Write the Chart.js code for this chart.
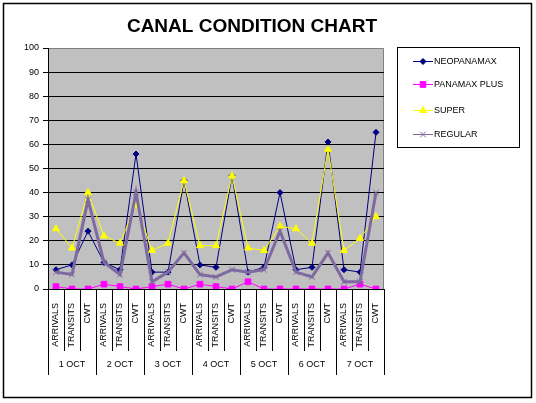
<!DOCTYPE html>
<html>
<head>
<meta charset="utf-8">
<script src="https://cdn.jsdelivr.net/npm/chart.js@4/dist/chart.umd.min.js"></script>
<style>
  body { margin: 0; background: #fff; }
  #wrap { width: 536px; height: 403px; }
</style>
</head>
<body>
<div id="wrap"><canvas id="canalChart" width="536" height="403"></canvas></div>
<script>
// ===============================
// DATA
// ===============================
const days = ["1 OCT", "2 OCT", "3 OCT", "4 OCT", "5 OCT", "6 OCT", "7 OCT"];
const kinds = ["ARRIVALS", "TRANSITS", "CWT"];
const labels = days.flatMap(() => kinds);

const neopanamax  = [8, 10, 24, 11, 8, 56, 7, 7, 45, 10, 9, 47, 7, 9, 40, 8, 9, 61, 8, 7, 65];
const panamaxPlus = [1, 0, 0, 2, 1, 0, 1, 2, 0, 2, 1, 0, 3, 0, 0, 0, 0, 0, 0, 2, 0];
const superSeries = [25, 17, 40, 22, 19, 35, 16, 19, 45, 18, 18, 47, 17, 16, 26, 25, 19, 58, 16, 21, 30];
const regular     = [7, 6, 37, 11, 6, 40, 3, 7, 15, 6, 5, 8, 7, 8, 24, 7, 5, 15, 3, 3, 40];

const yTicks = [0, 10, 20, 30, 40, 50, 60, 70, 80, 90, 100];

const FONT = "'Liberation Sans', Arial, sans-serif";

// ===============================
// EXTRA DRAWING (title, legend box, category dividers, frame)
// ===============================
const excelLook = {
  id: "excelLook",
  beforeDraw(chart) {
    const { ctx, chartArea: a } = chart;
    ctx.save();
    ctx.fillStyle = "#fff";
    ctx.fillRect(0, 0, chart.width, chart.height);
    ctx.fillStyle = "#C0C0C0";
    ctx.fillRect(a.left, a.top, a.right - a.left, a.bottom - a.top);
    ctx.strokeStyle = "#808080";
    ctx.lineWidth = 1;
    ctx.beginPath();
    ctx.moveTo(a.left, a.top + 0.5);
    ctx.lineTo(a.right - 0.5, a.top + 0.5);
    ctx.lineTo(a.right - 0.5, a.bottom);
    ctx.stroke();
    ctx.restore();
  },
  afterDraw(chart) {
    const { ctx, chartArea: a } = chart;
    const x = chart.scales.x;
    ctx.save();

    // category dividers below the axis
    const half = (x.getPixelForValue(1) - x.getPixelForValue(0)) / 2;
    ctx.strokeStyle = "#000";
    ctx.lineWidth = 1;
    for (let i = 0; i <= labels.length; i++) {
      const edge = i < labels.length ? x.getPixelForValue(i) - half : x.getPixelForValue(i - 1) + half;
      const px = Math.round(edge) + 0.5;
      const len = i % kinds.length === 0 ? 86 : 62;
      ctx.beginPath();
      ctx.moveTo(px, a.bottom);
      ctx.lineTo(px, a.bottom + len);
      ctx.stroke();
    }

    // title
    ctx.fillStyle = "#000";
    ctx.font = "bold 19px " + FONT;
    ctx.textAlign = "center";
    ctx.textBaseline = "middle";
    ctx.fillText("CANAL CONDITION CHART", 252, 27);

    // legend
    ctx.fillStyle = "#fff";
    ctx.strokeStyle = "#000";
    ctx.lineWidth = 1;
    ctx.fillRect(397.5, 47.5, 122, 100);
    ctx.strokeRect(397.5, 47.5, 122, 100);
    const rows = [61, 84, 110, 134];
    chart.data.datasets.forEach((ds, i) => {
      const y = rows[i] + 0.5;
      ctx.strokeStyle = ds.borderColor;
      ctx.lineWidth = 1;
      ctx.beginPath();
      ctx.moveTo(413, y);
      ctx.lineTo(433, y);
      ctx.stroke();
      ctx.fillStyle = ds.pointBackgroundColor;
      ctx.strokeStyle = ds.pointBorderColor;
      Chart.helpers.drawPoint(ctx, {
        pointStyle: ds.pointStyle,
        radius: ds.pointRadius,
        borderWidth: 1,
        rotation: 0
      }, 423, y);
      ctx.fillStyle = "#000";
      ctx.font = "9px " + FONT;
      ctx.textAlign = "left";
      ctx.textBaseline = "middle";
      ctx.fillText(ds.label, 434, y + 0.5);
    });

    // outer frame
    ctx.strokeStyle = "#000";
    ctx.lineWidth = 1.5;
    ctx.strokeRect(3.5, 3.5, 528, 394);
    ctx.restore();
  }
};

function makeChart() {
  const ctx = document.getElementById("canalChart").getContext("2d");

  new Chart(ctx, {
    type: "line",
    data: {
      labels: labels,
      datasets: [
        {
          label: "NEOPANAMAX",
          data: neopanamax,
          borderColor: "#000080",
          backgroundColor: "#000080",
          pointBackgroundColor: "#000080",
          pointBorderColor: "#000080",
          pointStyle: "rectRot",
          pointRadius: 3,
          borderWidth: 1,
          order: 3
        },
        {
          label: "PANAMAX PLUS",
          data: panamaxPlus,
          borderColor: "#FF00FF",
          backgroundColor: "#FF00FF",
          pointBackgroundColor: "#FF00FF",
          pointBorderColor: "#FF00FF",
          pointStyle: "rect",
          pointRadius: 4,
          borderWidth: 1,
          order: 2
        },
        {
          label: "SUPER",
          data: superSeries,
          borderColor: "#FFFF00",
          backgroundColor: "#FFFF00",
          pointBackgroundColor: "#FFFF00",
          pointBorderColor: "#FFFF00",
          pointStyle: "triangle",
          pointRadius: 4,
          borderWidth: 1,
          order: 1
        },
        {
          label: "REGULAR",
          data: regular,
          borderColor: "#7E6AA0",
          backgroundColor: "#7E6AA0",
          pointBackgroundColor: "#7E6AA0",
          pointBorderColor: "#7E6AA0",
          pointStyle: "crossRot",
          pointRadius: 4,
          pointBorderWidth: 1,
          borderWidth: 3,
          order: 0
        }
      ]
    },
    options: {
      responsive: false,
      animation: false,
      devicePixelRatio: 1,
      layout: { padding: { left: 0, top: 48, right: 152, bottom: 12 } },
      elements: { line: { tension: 0 } },
      plugins: {
        legend: { display: false },
        title: { display: false },
        tooltip: { enabled: false }
      },
      scales: {
        y: {
          min: 0,
          max: 100,
          afterBuildTicks: (s) => { s.ticks = yTicks.map((v) => ({ value: v })); },
          afterFit: (s) => { s.width = 48; },
          ticks: { color: "#000", font: { family: FONT, size: 9 }, padding: 4 },
          grid: {
            color: (c) => (c.tick && c.tick.value === 100 ? "rgba(0,0,0,0)" : "#000"),
            tickColor: "#000",
            tickLength: 5,
            lineWidth: 1
          },
          border: { color: "#000", width: 1 }
        },
        x: {
          weight: 0,
          offset: true,
          afterFit: (s) => { s.height = 62; },
          ticks: {
            color: "#000",
            font: { family: FONT, size: 9 },
            minRotation: 90,
            maxRotation: 90,
            autoSkip: false,
            padding: 6
          },
          grid: { display: false },
          border: { display: true, color: "#000", width: 1 }
        },
        x2: {
          type: "category",
          position: "bottom",
          labels: days,
          weight: 1,
          offset: true,
          afterFit: (s) => { s.height = 40; },
          ticks: { color: "#000", font: { family: FONT, size: 9 }, padding: 0, autoSkip: false, maxRotation: 0 },
          grid: { display: false },
          border: { display: false }
        }
      }
    },
    plugins: [excelLook]
  });
}

window.addEventListener("load", makeChart);
</script>
</body>
</html>
